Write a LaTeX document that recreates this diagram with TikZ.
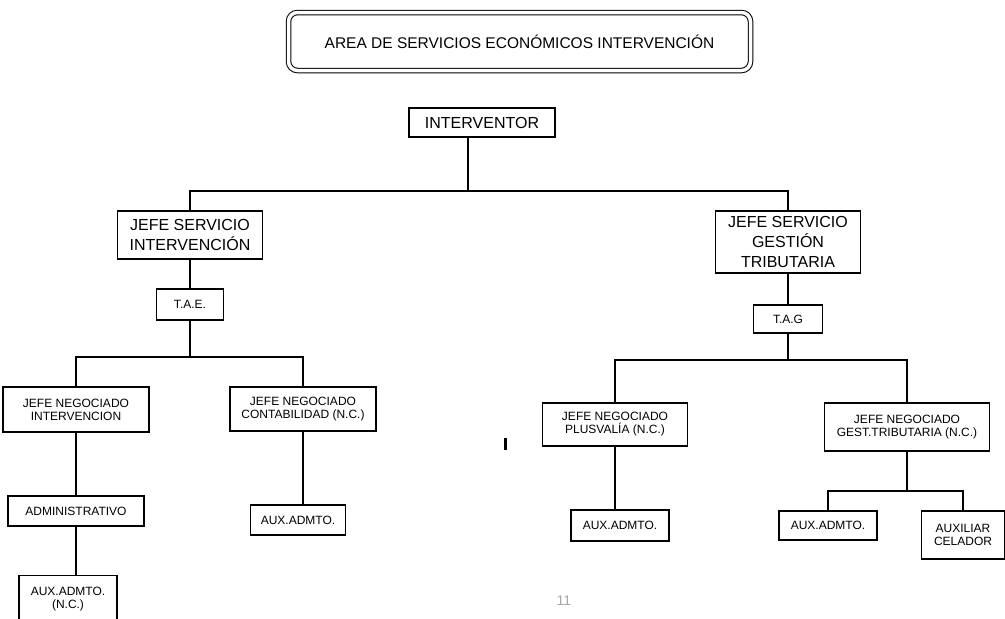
\documentclass[tikz,border=0pt]{standalone}
\usepackage{fontspec}
\setmainfont{Liberation Sans}
\tikzset{orgbox/.style={draw, line width=1.3pt, inner sep=0pt, align=center,
font=\fontsize{12}{13}\selectfont},
bigbox/.style={orgbox, font=\fontsize{16}{20}\selectfont}}

\begin{document}
\begin{tikzpicture}[x=1pt, y=-1pt, line width=1.3pt]
        \useasboundingbox (0,0) rectangle (1005,619);

        \node[draw, double, line width=1pt, double distance=3.5pt, rounded corners=9pt,
              minimum width=462pt, minimum height=58pt, align=center,
              font=\fontsize{15.5}{17}\selectfont] (area) at (519.5, 41.5)
              {AREA DE SERVICIOS ECONÓMICOS INTERVENCIÓN};

        \node[bigbox, minimum width=146pt, minimum height=29pt] (interv) at (482, 122.5) {INTERVENTOR};
        \node[bigbox, minimum width=145pt, minimum height=48pt] (jsi) at (190, 235) {JEFE SERVICIO\\INTERVENCIÓN};
        \node[bigbox, minimum width=145pt, minimum height=62pt] (jsg) at (788, 242) {JEFE SERVICIO\\GESTIÓN\\TRIBUTARIA};

        \node[orgbox, minimum width=67pt, minimum height=31pt] (tae) at (190, 304.5) {T.A.E.};
        \node[orgbox, minimum width=69pt, minimum height=28pt] (tag) at (788, 319) {T.A.G};

        \node[orgbox, minimum width=146pt, minimum height=45pt] (jni) at (76, 409.5) {JEFE NEGOCIADO\\INTERVENCION};
        \node[orgbox, minimum width=146pt, minimum height=44pt] (jnc) at (303, 409) {JEFE NEGOCIADO\\CONTABILIDAD (N.C.)};
        \node[orgbox, minimum width=136pt, minimum height=30pt] (adm) at (76, 511) {ADMINISTRATIVO};
        \node[orgbox, minimum width=98pt, minimum height=46pt, anchor=north] (aux1) at (68, 575) {AUX.ADMTO.\\(N.C.)};
        \node[orgbox, minimum width=95pt, minimum height=30pt] (aux2) at (298, 520) {AUX.ADMTO.};

        \node[orgbox, minimum width=145pt, minimum height=43pt] (jnp) at (615, 424.5) {JEFE NEGOCIADO\\PLUSVALÍA (N.C.)};
        \node[orgbox, minimum width=165pt, minimum height=48pt] (jng) at (907, 427) {JEFE NEGOCIADO\\GEST.TRIBUTARIA (N.C.)};
        \node[orgbox, minimum width=98pt, minimum height=31pt] (aux3) at (620, 525.5) {AUX.ADMTO.};
        \node[orgbox, minimum width=98pt, minimum height=29pt] (aux4) at (828, 525.5) {AUX.ADMTO.};
        \node[orgbox, minimum width=83pt, minimum height=48pt] (cel) at (963, 535) {AUXILIAR\\CELADOR};

        \coordinate (b0) at (468, 191);
        \coordinate (b1) at (190, 357);
        \coordinate (b2) at (788, 360);
        \coordinate (b3) at (907, 491);

        \draw (b0) -- (b0 |- interv.south);
        \draw (jsi.north) |- (b0) -| (jsg.north);

        \draw (jsi) -- (tae) -- (b1);
        \draw (jni.north) |- (b1) -| (jnc.north);
        \draw (jni) -- (adm);
        \draw (adm.south) -- (adm.south |- aux1.north);
        \draw (jnc.south) -- (jnc.south |- aux2.north);

        \draw (jsg) -- (tag) -- (b2);
        \draw (jnp.north) |- (b2) -| (jng.north);
        \draw (jnp.south) -- (jnp.south |- aux3.north);
        \draw (jng) -- (b3);
        \draw (aux4.north) |- (b3) -| (cel.north);

        \fill (503.5, 438) rectangle (506.5, 450);
        \node[text=black!35, font=\fontsize{14}{16}\selectfont] (page) at (564, 601) {11};
\end{tikzpicture}
\end{document}
